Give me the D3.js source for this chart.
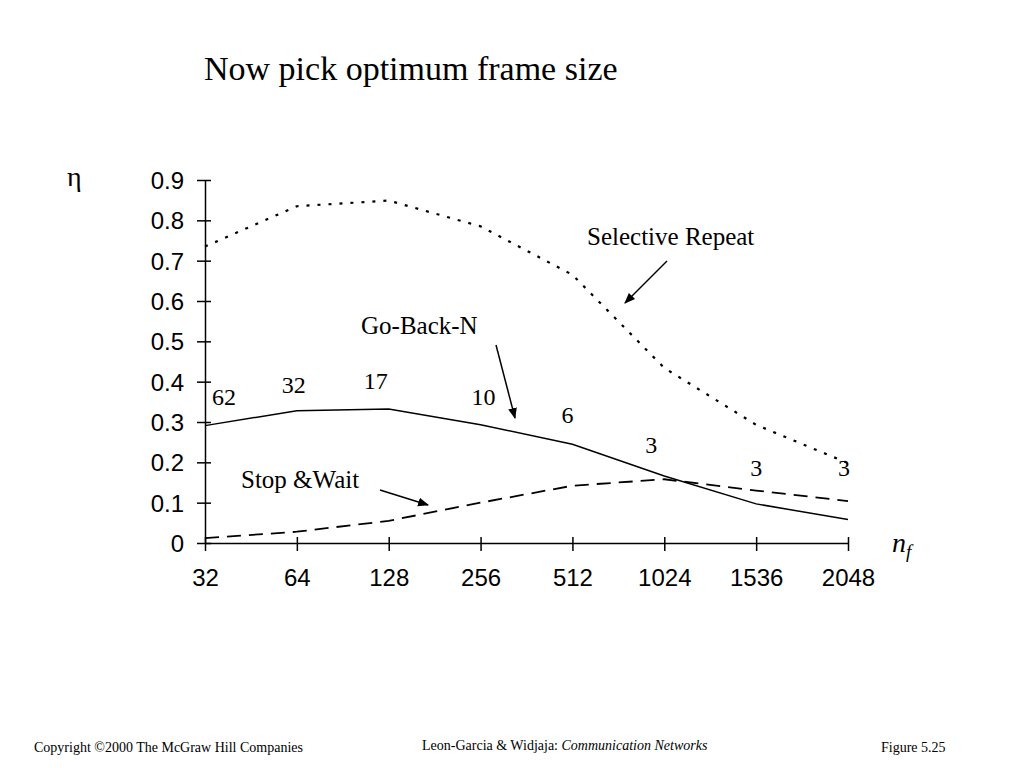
<!DOCTYPE html>
<html><head><meta charset="utf-8">
<script src="https://cdn.jsdelivr.net/npm/d3@7"></script>
<style>body{margin:0;background:#fff}svg{display:block}</style>
</head><body>
<script>
const frameSizes = ["32","64","128","256","512","1024","1536","2048"];
const yTicks = [0,0.1,0.2,0.3,0.4,0.5,0.6,0.7,0.8,0.9];
const selectiveRepeat = [0.735,0.835,0.849,0.785,0.665,0.434,0.293,0.198];
const goBackN = [0.291,0.328,0.332,0.293,0.245,0.166,0.097,0.058];
const stopAndWait = [0.012,0.028,0.055,0.100,0.142,0.158,0.130,0.104];
const windowSizes = ["62","32","17","10","6","3","3","3"];

const W=1024,H=768;
const svg=d3.select("body").append("svg").attr("width",W).attr("height",H);
const x=d3.scalePoint().domain(frameSizes).range([205,848]);
const y=d3.scaleLinear().domain([0,0.9]).range([543,180]);

const serif="'Liberation Serif','Times New Roman',serif";
const sans="'Liberation Sans',Arial,sans-serif";

svg.append("text").attr("x",204).attr("y",80).attr("font-family",serif).attr("font-size",34).text("Now pick optimum frame size");

// axes
const yAx=svg.append("g").attr("transform","translate(205,0)")
 .call(d3.axisLeft(y).tickValues(yTicks).tickSize(8).tickSizeOuter(0).tickPadding(10).tickFormat(d=>d===0?"0":d3.format(".1f")(d)));
yAx.select(".domain").attr("stroke","#000").attr("stroke-width",1.5);
yAx.selectAll(".tick line").attr("stroke","#000").attr("stroke-width",1.5).attr("x2",-8).attr("x1",6);
yAx.selectAll("text").attr("font-family",sans).attr("font-size",24).attr("fill","#000").attr("dy","0.35em").attr("x",-21);

const xAx=svg.append("g").attr("transform","translate(0,543)")
 .call(d3.axisBottom(x).tickSize(8).tickSizeOuter(0).tickPadding(18));
xAx.select(".domain").attr("stroke","#000").attr("stroke-width",1.5);
xAx.selectAll(".tick line").attr("stroke","#000").attr("stroke-width",1.5).attr("y1",-6).attr("y2",8);
xAx.selectAll("text").attr("font-family",sans).attr("font-size",24).attr("fill","#000");

svg.append("text").attr("x",67).attr("y",186).attr("font-family",serif).attr("font-size",28).text("η");
const nf=svg.append("text").attr("x",892).attr("y",552).attr("font-family",serif).attr("font-style","italic").attr("font-size",28);
nf.append("tspan").text("n");
nf.append("tspan").attr("font-size",19).attr("dy",6).text("f");

const line=d3.line().x((d,i)=>x(frameSizes[i])).y(d=>y(d));
svg.append("path").datum(selectiveRepeat).attr("d",line).attr("fill","none").attr("stroke","#000").attr("stroke-width",2.2).attr("stroke-dasharray","3 8");
svg.append("path").datum(goBackN).attr("d",line).attr("fill","none").attr("stroke","#000").attr("stroke-width",1.5);
svg.append("path").datum(stopAndWait).attr("d",line).attr("fill","none").attr("stroke","#000").attr("stroke-width",1.8).attr("stroke-dasharray","14 8");

// window size labels
const labOff=[[19,-21],[-3,-18],[-13,-20],[3,-20],[-5,-21],[-13,-23],[0,-28],[-4,-27]];
svg.selectAll(".ws").data(windowSizes).enter().append("text")
 .attr("x",(d,i)=>x(frameSizes[i])+labOff[i][0]).attr("y",(d,i)=>y(goBackN[i])+labOff[i][1])
 .attr("font-family",serif).attr("font-size",24).attr("text-anchor","middle").text(d=>d)
 .attr("transform",(d,i)=>i===7?`translate(0,${y(stopAndWait[i])-y(goBackN[i])+2})`:null);

// annotations
const defs=svg.append("defs");
defs.append("marker").attr("id","ah").attr("viewBox","0 0 10 10").attr("refX",9).attr("refY",5)
 .attr("markerWidth",11).attr("markerHeight",11).attr("markerUnits","userSpaceOnUse").attr("orient","auto")
 .append("path").attr("d","M0,1 L10,5 L0,9 Z").attr("fill","#000");
function ann(t,tx,ty,x1,y1,x2,y2){
 svg.append("text").attr("x",tx).attr("y",ty).attr("font-family",serif).attr("font-size",25).text(t);
 svg.append("line").attr("x1",x1).attr("y1",y1).attr("x2",x2).attr("y2",y2).attr("stroke","#000").attr("stroke-width",1.5).attr("marker-end","url(#ah)");
}
ann("Selective Repeat",587,245,667,261,625,303);
ann("Go-Back-N",361,334,496,345,515,418);
ann("Stop &Wait",241,488,380,490,428,505);

// footer
svg.append("text").attr("x",34).attr("y",752).attr("font-family",serif).attr("font-size",14).text("Copyright ©2000 The McGraw Hill Companies");
const f2=svg.append("text").attr("x",422).attr("y",750).attr("font-family",serif).attr("font-size",14);
f2.append("tspan").text("Leon-Garcia & Widjaja:  ");
f2.append("tspan").attr("font-style","italic").text("Communication Networks");
svg.append("text").attr("x",881).attr("y",752).attr("font-family",serif).attr("font-size",14).text("Figure 5.25");
</script>
</body></html>
